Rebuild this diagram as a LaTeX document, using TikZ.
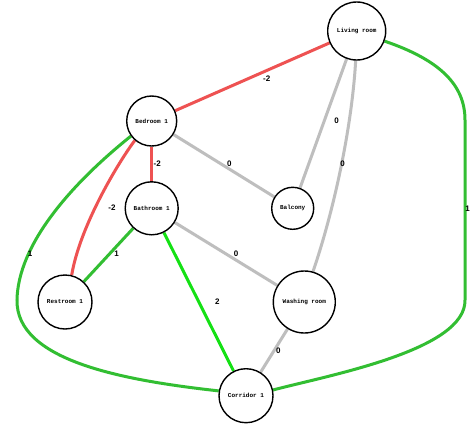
\documentclass[tikz,border=0pt]{standalone}
\usepackage{fontspec}
\newfontfamily\nodefont{Liberation Mono}
\newfontfamily\labfont{Liberation Sans}
\usetikzlibrary{backgrounds}
\definecolor{redE}{RGB}{238,82,82}
\definecolor{greenE}{RGB}{50,190,50}
\definecolor{limeE}{RGB}{20,225,20}
\definecolor{grayE}{RGB}{190,190,190}
\begin{document}
\begin{tikzpicture}[x=1pt,y=1pt,
  room/.style={circle,draw=black,line width=1.4pt,fill=white,inner sep=0pt,
    font=\nodefont\bfseries\fontsize{6}{7}\selectfont},
  wlab/.style={font=\labfont\bfseries\fontsize{8}{9}\selectfont,inner sep=0pt},
  conn/.style={line width=3pt},
  negedge/.style={conn,draw=redE},
  posedge/.style={conn,draw=greenE},
  posedgeb/.style={conn,draw=limeE},
  zeroedge/.style={conn,draw=grayE}]
\useasboundingbox (0,0) rectangle (474,-426);

\node[room,minimum size=58pt] (liv) at (356.7,-31) {Living room};
\node[room,minimum size=50pt] (bed) at (151.7,-121) {Bedroom 1};
\node[room,minimum size=53pt] (bath) at (151.7,-208.3) {Bathroom 1};
\node[room,minimum size=42pt] (bal) at (292.7,-208.3) {Balcony};
\node[room,minimum size=54pt] (rest) at (65,-302) {Restroom 1};
\node[room,minimum size=62pt] (wash) at (304.3,-302) {Washing room};
\node[room,minimum size=54pt] (cor) at (246,-395.7) {Corridor 1};

\begin{scope}[on background layer]
\fill[white] (0,0) rectangle (474,-426);
\draw[negedge] (liv) -- (bed);
\draw[negedge] (bed) -- (bath);
\draw[negedge] (bed.229) .. controls (120,-160) and (80,-225) .. (rest.76);
\draw[zeroedge] (bed) -- (bal);
\draw[zeroedge] (liv) -- (bal);
\draw[zeroedge] (liv.-92) .. controls (352,-125) and (335,-207) .. (wash.74);
\draw[posedge] (liv.-20) .. controls (440,-60) and (465,-85) .. (465,-120)
  -- (465,-300) .. controls (466,-350) and (330,-375) .. (cor.12);
\draw[posedge] (bed.216) .. controls (70,-185) and (18,-245) .. (17,-300)
  .. controls (16,-360) and (120,-380) .. (cor.170);
\draw[posedge] (bath) -- (rest);
\draw[posedgeb] (bath) -- (cor);
\draw[zeroedge] (bath) -- (wash);
\draw[zeroedge] (wash) -- (cor);
\end{scope}

\node[wlab] (l1) at (266.7,-78.3) {-2};
\node[wlab] (l2) at (157.3,-163.7) {-2};
\node[wlab] (l3) at (112,-208) {-2};
\node[wlab] (l4) at (229.3,-163.3) {0};
\node[wlab] (l5) at (336.7,-121) {0};
\node[wlab] (l6) at (342.7,-163.3) {0};
\node[wlab] (l7) at (467.5,-208.3) {1};
\node[wlab] (l8) at (30,-253.3) {1};
\node[wlab] (l9) at (116.7,-253.3) {1};
\node[wlab] (l10) at (217.3,-302) {2};
\node[wlab] (l11) at (236,-253.3) {0};
\node[wlab] (l12) at (278.3,-351) {0};
\end{tikzpicture}
\end{document}
